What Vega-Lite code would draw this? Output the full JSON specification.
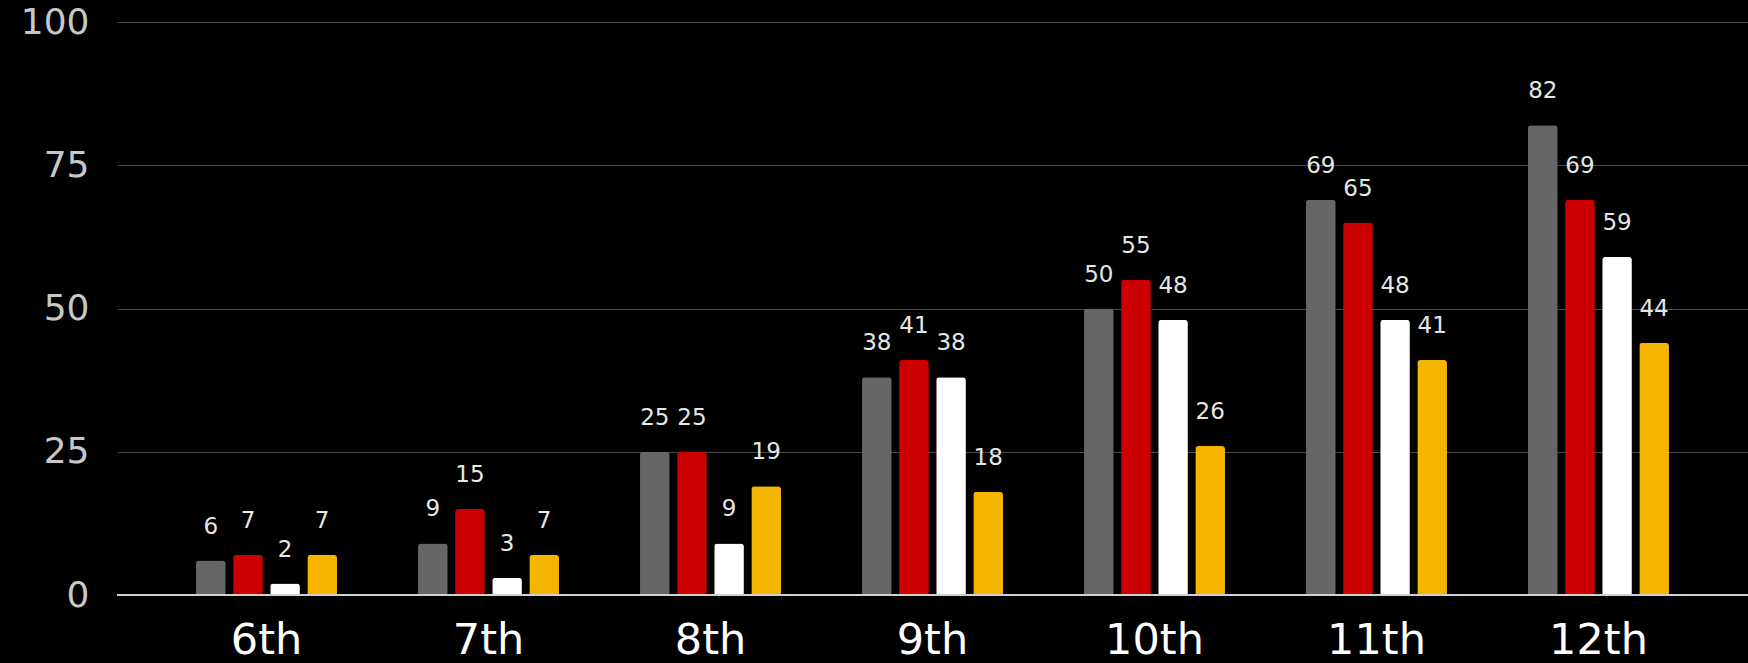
{
  "$schema": "https://vega.github.io/schema/vega-lite/v6.json",
  "width": 1631,
  "height": 573,
  "autosize": {"type": "none"},
  "padding": {"left": 117, "top": 22, "right": 0, "bottom": 68},
  "background": "#000000",
  "config": {"view": {"stroke": null}},
  "data": {"values": [
    {"grade": "6th", "series": "A", "value": 6},
    {"grade": "6th", "series": "B", "value": 7},
    {"grade": "6th", "series": "C", "value": 2},
    {"grade": "6th", "series": "D", "value": 7},
    {"grade": "7th", "series": "A", "value": 9},
    {"grade": "7th", "series": "B", "value": 15},
    {"grade": "7th", "series": "C", "value": 3},
    {"grade": "7th", "series": "D", "value": 7},
    {"grade": "8th", "series": "A", "value": 25},
    {"grade": "8th", "series": "B", "value": 25},
    {"grade": "8th", "series": "C", "value": 9},
    {"grade": "8th", "series": "D", "value": 19},
    {"grade": "9th", "series": "A", "value": 38},
    {"grade": "9th", "series": "B", "value": 41},
    {"grade": "9th", "series": "C", "value": 38},
    {"grade": "9th", "series": "D", "value": 18},
    {"grade": "10th", "series": "A", "value": 50},
    {"grade": "10th", "series": "B", "value": 55},
    {"grade": "10th", "series": "C", "value": 48},
    {"grade": "10th", "series": "D", "value": 26},
    {"grade": "11th", "series": "A", "value": 69},
    {"grade": "11th", "series": "B", "value": 65},
    {"grade": "11th", "series": "C", "value": 48},
    {"grade": "11th", "series": "D", "value": 41},
    {"grade": "12th", "series": "A", "value": 82},
    {"grade": "12th", "series": "B", "value": 69},
    {"grade": "12th", "series": "C", "value": 59},
    {"grade": "12th", "series": "D", "value": 44}
  ]},
  "encoding": {
    "x": {
      "field": "grade", "type": "nominal", "sort": null,
      "scale": {"paddingInner": 0.365, "paddingOuter": 0.356},
      "axis": {
        "title": null, "labelAngle": 0, "ticks": false, "domain": false,
        "labelFont": "DejaVu Sans", "labelFontSize": 43, "labelColor": "#ffffff",
        "labelPadding": 24
      }
    },
    "xOffset": {
      "field": "series", "type": "nominal",
      "scale": {"paddingInner": 0.2, "paddingOuter": 0}
    },
    "y": {
      "field": "value", "type": "quantitative",
      "scale": {"domain": [0, 100], "nice": false},
      "axis": {
        "title": null, "values": [0, 25, 50, 75, 100], "ticks": false, "domain": false,
        "grid": true, "gridColor": "#4a4a4a", "gridWidth": 1.2,
        "labelFont": "DejaVu Sans", "labelFontSize": 36, "labelColor": "#c8c8c8",
        "labelPadding": 28
      }
    }
  },
  "layer": [
    {
      "mark": {"type": "bar", "cornerRadiusTopLeft": 3, "cornerRadiusTopRight": 3},
      "encoding": {
        "color": {
          "field": "series", "type": "nominal", "legend": null,
          "scale": {"domain": ["A", "B", "C", "D"], "range": ["#666666", "#cc0000", "#ffffff", "#f4b400"]}
        }
      }
    },
    {
      "mark": {"type": "text", "baseline": "middle", "dy": -34, "font": "DejaVu Sans", "fontSize": 23, "color": "#e6e6e6"},
      "encoding": {"text": {"field": "value", "type": "quantitative"}}
    },
    {
      "data": {"values": [{"v": 0}]},
      "mark": {"type": "rule", "color": "#d0d0d0", "strokeWidth": 2},
      "encoding": {"y": {"field": "v", "type": "quantitative"}, "x": null, "xOffset": null}
    }
  ]
}
